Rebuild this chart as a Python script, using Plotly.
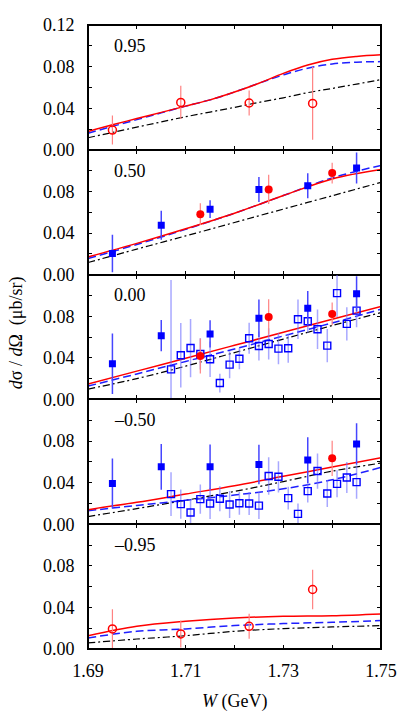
import plotly.graph_objects as go
from plotly.subplots import make_subplots

# ---------------- data ----------------
panel_labels = ["0.95", "0.50", "0.00", "\u20130.50", "\u20130.95"]

W_fine = [1.690, 1.695, 1.700, 1.705, 1.710, 1.715, 1.720, 1.725, 1.730, 1.735, 1.740, 1.745, 1.750]
W_curve = [1.69, 1.70, 1.71, 1.72, 1.73, 1.74, 1.75]

# panel 1 (cos = 0.95) curves on the fine grid
p1_red = [0.0176, 0.024, 0.030, 0.036, 0.042, 0.048, 0.0555, 0.064, 0.0735, 0.0815, 0.087, 0.0898, 0.0913]
p1_blue = [0.016, 0.0225, 0.029, 0.0355, 0.042, 0.048, 0.0555, 0.064, 0.072, 0.0785, 0.0825, 0.0843, 0.0848]
p1_black = [0.0116, 0.0167, 0.0218, 0.0268, 0.0318, 0.0363, 0.0408, 0.0456, 0.050, 0.0550, 0.059, 0.0632, 0.0675]

# panels 2-5 curves on the coarse grid
p2_red = [0.017, 0.030, 0.044, 0.059, 0.076, 0.092, 0.101]
p2_blue = [0.0155, 0.029, 0.0435, 0.059, 0.076, 0.093, 0.105]
p2_black = [0.0116, 0.0245, 0.0372, 0.0501, 0.063, 0.0758, 0.0887]

p3_red = [0.0148, 0.0272, 0.0396, 0.052, 0.0645, 0.077, 0.0893]
p3_blue = [0.0128, 0.0245, 0.0365, 0.0485, 0.061, 0.0735, 0.0867]
p3_black = [0.0099, 0.020, 0.032, 0.045, 0.058, 0.071, 0.0835]

p4_red = [0.014, 0.021, 0.029, 0.037, 0.046, 0.055, 0.064]
p4_blue = [0.013, 0.018, 0.023, 0.028, 0.034, 0.0427, 0.0546]
p4_black = [0.0073, 0.015, 0.023, 0.0315, 0.041, 0.051, 0.0588]

p5_red = [0.0128, 0.0218, 0.0266, 0.0298, 0.0314, 0.032, 0.0337]
p5_blue = [0.0106, 0.0170, 0.0193, 0.0225, 0.0244, 0.0257, 0.0273]
p5_black = [0.0058, 0.0096, 0.0128, 0.017, 0.0196, 0.0212, 0.0225]

# data points
W_open_circ = [1.695, 1.709, 1.723, 1.736]
p1_oc_val = [0.019, 0.0456, 0.045, 0.0446]
p1_oc_err = [0.014, 0.016, 0.012, 0.035]
p5_oc_val = [0.0193, 0.0145, 0.0218, 0.0572]
p5_oc_err = [0.019, 0.013, 0.012, 0.019]

W_sq = [1.695, 1.705, 1.715, 1.725, 1.735, 1.745]
p2_sq_val = [0.0202, 0.0475, 0.0629, 0.0819, 0.0854, 0.1025]
p2_sq_err = [0.018, 0.014, 0.0085, 0.012, 0.012, 0.015]
p3_sq_val = [0.0343, 0.0613, 0.063, 0.0781, 0.0877, 0.1015]
p3_sq_err = [0.029, 0.015, 0.013, 0.018, 0.0165, 0.017]
p4_sq_val = [0.0391, 0.0552, 0.0552, 0.0575, 0.0617, 0.0771]
p4_sq_err = [0.024, 0.022, 0.0215, 0.019, 0.022, 0.020]

W_red = [1.713, 1.727, 1.740]
p2_red_val = [0.0581, 0.0819, 0.0976]
p2_red_err = [0.0105, 0.014, 0.010]
p3_red_val = [0.0417, 0.0793, 0.0822]
p3_red_err = [0.0168, 0.017, 0.011]
W_red4 = [1.740]
p4_red_val = [0.0633]
p4_red_err = [0.017]

W_open_sq = [1.707, 1.709, 1.711, 1.713, 1.715, 1.717, 1.719, 1.721, 1.723, 1.725,
             1.727, 1.729, 1.731, 1.733, 1.735, 1.737, 1.739, 1.741, 1.743, 1.745]
p3_os_val = [0.0289, 0.0424, 0.0494, 0.0437, 0.0386, 0.0157, 0.0334, 0.0391, 0.0588, 0.0514,
             0.0533, 0.0488, 0.0492, 0.0771, 0.0752, 0.0675, 0.0517, 0.1022, 0.0726, 0.0854]
p3_os_err = [0.086, 0.031, 0.028, 0.015, 0.017, 0.009, 0.013, 0.010, 0.015, 0.014,
             0.015, 0.015, 0.014, 0.019, 0.011, 0.019, 0.016, 0.023, 0.016, 0.016]
p4_os_val = [0.0289, 0.0193, 0.0112, 0.0241, 0.0199, 0.0244, 0.0189, 0.0202, 0.0199, 0.0179,
             0.0463, 0.0456, 0.0251, 0.0099, 0.0318, 0.0511, 0.0295, 0.0388, 0.0449, 0.0405]
p4_os_err = [0.021, 0.014, 0.012, 0.014, 0.015, 0.012, 0.013, 0.011, 0.011, 0.013,
             0.018, 0.015, 0.011, 0.010, 0.011, 0.017, 0.013, 0.013, 0.015, 0.016]

y_tickvals = [0.0, 0.02, 0.04, 0.06, 0.08, 0.10, 0.12]
y_ticktext_top = ["0.00", "", "0.04", "", "0.08", "", "0.12"]
y_ticktext = ["0.00", "", "0.04", "", "0.08", "", ""]
x_tickvals = [1.69, 1.70, 1.71, 1.72, 1.73, 1.74, 1.75]
x_ticktext = ["1.69", "", "1.71", "", "1.73", "", "1.75"]

# ---------------- style ----------------
RED = "#ff0000"
BLUE = "#0000ff"
BLUE_LINE = "#1f1fff"
FONT = "Liberation Serif, Times New Roman, Times, serif"
FS = 18

fig = make_subplots(rows=5, cols=1, shared_xaxes=True, vertical_spacing=0)


def curves(row, W, red, blue, black):
    fig.add_trace(go.Scatter(x=W, y=black, mode="lines", line=dict(color="black", width=1.2, dash="7px,3px,2px,3px", shape="spline"),
                             showlegend=False, hoverinfo="skip"), row=row, col=1)
    fig.add_trace(go.Scatter(x=W, y=blue, mode="lines", line=dict(color=BLUE_LINE, width=1.5, dash="8px,4px", shape="spline"),
                             showlegend=False, hoverinfo="skip"), row=row, col=1)
    fig.add_trace(go.Scatter(x=W, y=red, mode="lines", line=dict(color=RED, width=1.5, shape="spline"),
                             showlegend=False, hoverinfo="skip"), row=row, col=1)


def open_sq(row, W, v, e):
    fig.add_trace(go.Scatter(x=W, y=v, mode="markers",
                             marker=dict(symbol="square-open", size=7, color=BLUE, line=dict(width=1.4)),
                             error_y=dict(type="data", array=e, color="rgba(110,110,255,0.6)", thickness=1.5, width=0),
                             showlegend=False), row=row, col=1)


def filled_sq(row, W, v, e):
    fig.add_trace(go.Scatter(x=W, y=v, mode="markers",
                             marker=dict(symbol="square", size=7, color=BLUE),
                             error_y=dict(type="data", array=e, color="rgb(70,70,255)", thickness=1.5, width=0),
                             showlegend=False), row=row, col=1)


def filled_circ(row, W, v, e):
    fig.add_trace(go.Scatter(x=W, y=v, mode="markers",
                             marker=dict(symbol="circle", size=8, color=RED),
                             error_y=dict(type="data", array=e, color="rgb(255,130,130)", thickness=1.2, width=0),
                             showlegend=False), row=row, col=1)


def open_circ(row, W, v, e):
    fig.add_trace(go.Scatter(x=W, y=v, mode="markers",
                             marker=dict(symbol="circle-open", size=8, color=RED, line=dict(width=1.5)),
                             error_y=dict(type="data", array=e, color="rgb(255,130,130)", thickness=1.2, width=0),
                             showlegend=False), row=row, col=1)


curves(1, W_fine, p1_red, p1_blue, p1_black)
open_circ(1, W_open_circ, p1_oc_val, p1_oc_err)

curves(2, W_curve, p2_red, p2_blue, p2_black)
filled_circ(2, W_red, p2_red_val, p2_red_err)
filled_sq(2, W_sq, p2_sq_val, p2_sq_err)

curves(3, W_curve, p3_red, p3_blue, p3_black)
open_sq(3, W_open_sq, p3_os_val, p3_os_err)
filled_circ(3, W_red, p3_red_val, p3_red_err)
filled_sq(3, W_sq, p3_sq_val, p3_sq_err)

curves(4, W_curve, p4_red, p4_blue, p4_black)
open_sq(4, W_open_sq, p4_os_val, p4_os_err)
filled_circ(4, W_red4, p4_red_val, p4_red_err)
filled_sq(4, W_sq, p4_sq_val, p4_sq_err)

curves(5, W_curve, p5_red, p5_blue, p5_black)
open_circ(5, W_open_circ, p5_oc_val, p5_oc_err)

tickfont = dict(family=FONT, size=FS, color="black")

for r in range(1, 6):
    fig.update_xaxes(range=[1.69, 1.75], tickvals=x_tickvals, ticktext=x_ticktext,
                     ticks="inside", ticklen=4, tickwidth=1, tickcolor="black",
                     showline=True, linecolor="black", linewidth=1, mirror="ticks",
                     showgrid=False, zeroline=False, tickfont=tickfont,
                     showticklabels=(r == 5), ticklabelstandoff=5, row=r, col=1)
    fig.update_yaxes(range=[0, 0.12], tickvals=y_tickvals,
                     ticktext=(y_ticktext_top if r == 1 else y_ticktext),
                     ticks="inside", ticklen=4, tickwidth=1, tickcolor="black",
                     showline=True, linecolor="black", linewidth=1, mirror="ticks",
                     showgrid=False, zeroline=False, tickfont=tickfont,
                     ticklabelstandoff=9, row=r, col=1)
    yref = "y" if r == 1 else f"y{r}"
    xref = "x" if r == 1 else f"x{r}"
    fig.add_annotation(x=1.6949, y=0.100, xref=xref, yref=yref, text=panel_labels[r - 1],
                       showarrow=False, xanchor="left", yanchor="middle",
                       font=dict(family=FONT, size=FS, color="black"))

# outer frame
fig.add_shape(type="rect", xref="paper", yref="paper", x0=0, x1=1, y0=0, y1=1,
              line=dict(color="black", width=2), layer="above")

fig.add_annotation(x=0.5, y=-0.0835, xref="paper", yref="paper",
                   text="<i>W</i> (GeV)", showarrow=False, xanchor="center", yanchor="middle",
                   font=dict(family=FONT, size=FS, color="black"))
fig.add_annotation(x=-0.245, y=0.5064, xref="paper", yref="paper",
                   text="<i>d</i>\u03c3 / <i>d</i>\u03a9\u00a0\u00a0(\u03bcb/sr)", textangle=-90,
                   showarrow=False, xanchor="center", yanchor="middle",
                   font=dict(family=FONT, size=FS, color="black"))

fig.update_layout(width=409, height=711,
                  margin=dict(l=88, r=28, t=25, b=62),
                  paper_bgcolor="white", plot_bgcolor="white",
                  showlegend=False)

fig.write_html("out.html", config={"displayModeBar": False},
               post_script="document.body.style.margin='0px';document.body.style.overflow='hidden';")
